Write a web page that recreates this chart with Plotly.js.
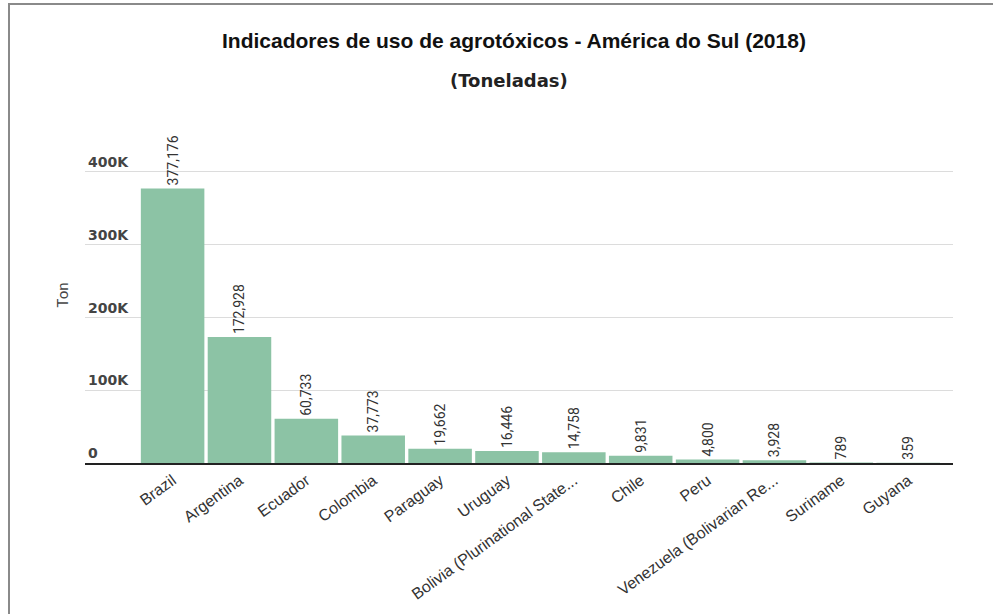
<!DOCTYPE html>
<html>
<head>
<meta charset="utf-8">
<script src="https://cdn.plot.ly/plotly-3.0.1.min.js"></script>
<style>
html,body{margin:0;padding:0;background:#fff;}
#wrap{position:absolute;left:0;top:0;width:993px;height:614px;overflow:hidden;}
#frame{position:absolute;left:8px;top:3px;width:990px;height:620px;border-left:2.5px solid #8a8a8a;border-top:2.5px solid #8a8a8a;pointer-events:none;}
#chart{position:absolute;left:0;top:0;width:993px;height:614px;}
</style>
</head>
<body>
<div id="wrap"><div id="chart"></div><div id="frame"></div></div>
<script>
const countries = ["Brazil","Argentina","Ecuador","Colombia","Paraguay","Uruguay","Bolivia (Plurinational State...","Chile","Peru","Venezuela (Bolivarian Re...","Suriname","Guyana"];
const tons = [377176,172928,60733,37773,19662,16446,14758,9831,4800,3928,789,359];
const yTickVals = [0,100000,200000,300000,400000];
const yTickText = ["0","100K","200K","300K","400K"];

const trace = {
  type: "bar",
  x: countries,
  y: tons,
  marker: {color: "#8cc3a5", line: {width: 0}},
  texttemplate: "%{y:,}",
  textposition: "outside",
  textangle: -90,
  cliponaxis: false,
  textfont: {family: "Liberation Sans Narrow, Roboto, sans-serif", size: 14, color: "#333"},
  hoverinfo: "x+y"
};

const layout = {
  width: 993, height: 614,
  margin: {l: 85, r: 40, t: 150, b: 151},
  paper_bgcolor: "#fff", plot_bgcolor: "#fff",
  showlegend: false,
  bargap: 0.05,
  xaxis: {
    type: "category",
    range: [-1.31, 11.67],
    tickangle: -36,
    tickfont: {family: "Liberation Sans, Arial, sans-serif", size: 16, color: "#333"},
    showgrid: false,
    showline: true, linecolor: "#222", linewidth: 2,
    ticks: "", automargin: false
  },
  yaxis: {
    range: [0, 430000],
    tickvals: yTickVals, ticktext: yTickText,
    ticklabelposition: "inside top",
    tickfont: {family: "DejaVu Sans, sans-serif", size: 14, color: "#444", weight: "bold"},
    showgrid: true, gridcolor: "#dcdcdc", gridwidth: 1,
    zeroline: false, showline: false, ticks: "", automargin: false
  },
  annotations: [
    {text: "<b>Indicadores de uso de agrotóxicos - América do Sul (2018)</b>", xref: "paper", yref: "paper", x: 0.494, y: 1, xanchor: "center", yanchor: "middle", yshift: 150-40, showarrow: false, font: {family: "Liberation Sans, Arial, sans-serif", size: 21, color: "#111"}},
    {text: "<b>(Toneladas)</b>", xref: "paper", yref: "paper", x: 0.489, y: 1, xanchor: "center", yanchor: "middle", yshift: 150-80, showarrow: false, font: {family: "DejaVu Sans, sans-serif", size: 18, color: "#222"}},
    {text: "Ton", xref: "paper", yref: "paper", x: 0, y: 0.535, xanchor: "center", yanchor: "middle", xshift: -22, textangle: -90, showarrow: false, font: {family: "Roboto, sans-serif", size: 15, color: "#444"}}
  ]
};

Plotly.newPlot("chart", [trace], layout, {displayModeBar: false, staticPlot: true});
</script>
</body>
</html>
